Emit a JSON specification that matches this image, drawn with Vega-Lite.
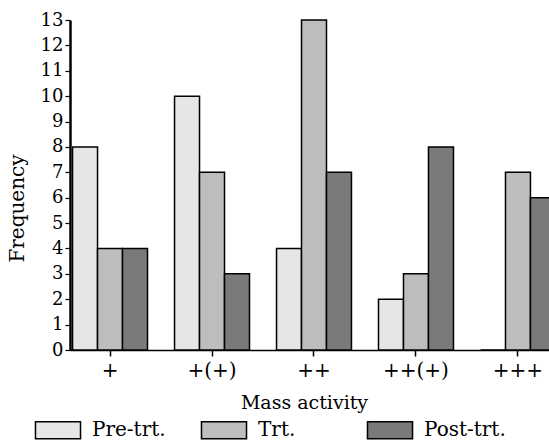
{
  "$schema": "https://vega.github.io/schema/vega-lite/v6.json",
  "autosize": "none",
  "width": 488,
  "height": 330,
  "padding": {"left": 70, "top": 20, "right": 0, "bottom": 93},
  "background": "white",
  "data": {
    "values": [
      {"activity": "+", "treatment": "Pre-trt.", "value": 8},
      {"activity": "+", "treatment": "Trt.", "value": 4},
      {"activity": "+", "treatment": "Post-trt.", "value": 4},
      {"activity": "+(+)", "treatment": "Pre-trt.", "value": 10},
      {"activity": "+(+)", "treatment": "Trt.", "value": 7},
      {"activity": "+(+)", "treatment": "Post-trt.", "value": 3},
      {"activity": "++", "treatment": "Pre-trt.", "value": 4},
      {"activity": "++", "treatment": "Trt.", "value": 13},
      {"activity": "++", "treatment": "Post-trt.", "value": 7},
      {"activity": "++(+)", "treatment": "Pre-trt.", "value": 2},
      {"activity": "++(+)", "treatment": "Trt.", "value": 3},
      {"activity": "++(+)", "treatment": "Post-trt.", "value": 8},
      {"activity": "+++", "treatment": "Pre-trt.", "value": 0},
      {"activity": "+++", "treatment": "Trt.", "value": 7},
      {"activity": "+++", "treatment": "Post-trt.", "value": 6}
    ]
  },
  "mark": {"type": "bar", "stroke": "black", "strokeWidth": 1.5},
  "encoding": {
    "x": {
      "field": "activity",
      "type": "nominal",
      "sort": ["+", "+(+)", "++", "++(+)", "+++"],
      "scale": {"paddingInner": 0.265, "paddingOuter": 0.025},
      "axis": {
        "title": "Mass activity",
        "titleFont": "DejaVu Serif",
        "titleFontSize": 19,
        "titleFontWeight": "normal",
        "titleColor": "black",
        "titlePadding": 13,
        "titleX": 234,
        "labelAngle": 0,
        "labelFont": "DejaVu Serif",
        "labelFontSize": 20,
        "labelColor": "black",
        "labelPadding": 4,
        "domainColor": "black",
        "domainWidth": 1.5,
        "tickColor": "black",
        "tickSize": 6,
        "tickWidth": 1.5,
        "grid": false
      }
    },
    "xOffset": {
      "field": "treatment",
      "type": "nominal",
      "sort": ["Pre-trt.", "Trt.", "Post-trt."],
      "scale": {"paddingInner": 0, "paddingOuter": 0}
    },
    "y": {
      "field": "value",
      "type": "quantitative",
      "scale": {"domain": [0, 13], "nice": false},
      "axis": {
        "title": "Frequency",
        "titleFont": "DejaVu Serif",
        "titleFontSize": 20,
        "titleFontWeight": "normal",
        "titleColor": "black",
        "titleX": -53,
        "titleY": 188,
        "titleAlign": "center",
        "titleBaseline": "middle",
        "titleAngle": -90,
        "values": [0,1,2,3,4,5,6,7,8,9,10,11,12,13],
        "labelFont": "DejaVu Serif",
        "labelFontSize": 18,
        "labelColor": "black",
        "labelPadding": 2,
        "domainColor": "black",
        "domainWidth": 2.5,
        "tickColor": "black",
        "tickSize": 5,
        "tickWidth": 1.2,
        "grid": false
      }
    },
    "fill": {
      "field": "treatment",
      "type": "nominal",
      "sort": ["Pre-trt.", "Trt.", "Post-trt."],
      "scale": {"domain": ["Pre-trt.", "Trt.", "Post-trt."], "range": ["#e6e6e6", "#bdbdbd", "#7a7a7a"]},
      "legend": {
        "title": null,
        "orient": "none",
        "legendX": -22,
        "legendY": 400,
        "direction": "horizontal",
        "columns": 3,
        "gridAlign": "all",
        "columnPadding": 24,
        "symbolType": "M-2.65,-1L2.65,-1L2.65,1L-2.65,1Z",
        "symbolSize": 289,
        "symbolStrokeColor": "black",
        "symbolStrokeWidth": 1.5,
        "symbolOffset": 0,
        "labelFont": "DejaVu Serif",
        "labelFontSize": 20,
        "labelColor": "black",
        "labelOffset": 24,
        "labelLimit": 200
      }
    }
  },
  "config": {"view": {"stroke": null}}
}
